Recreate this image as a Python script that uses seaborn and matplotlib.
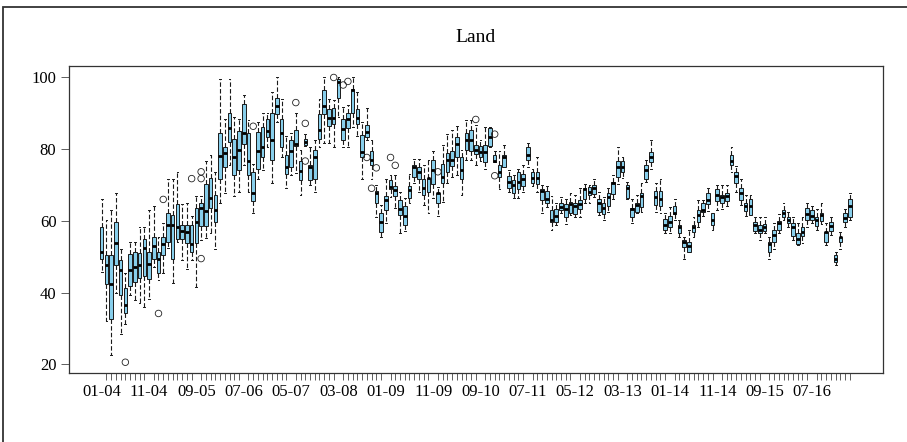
import matplotlib
matplotlib.use("Agg")
import matplotlib.pyplot as plt
import seaborn as sns
import pandas as pd

# monthly box statistics (whisker low, Q1, median, Q3, whisker high)
lows = [45.7, 32.1, 22.6, 39.8, 28.4, 31.4, 39.3, 37.9, 37.2, 36.1, 38.1, 47.2, 43.5, 45.6, 52.5, 42.8, 54.0, 49.1, 46.5, 49.1,
        41.6, 54.6, 55.3, 56.5, 52.3, 65.1, 67.8, 75.6, 66.9, 68.1, 75.6, 68.1, 62.1, 71.6, 74.1, 80.5, 70.6, 87.6, 77.9, 69.1,
        72.8, 73.4, 67.2, 80.9, 70.0, 68.1, 80.5, 81.8, 81.6, 80.7, 89.0, 80.5, 80.5, 86.2, 83.6, 71.8, 82.5, 71.8, 61.2, 55.6,
        59.3, 66.7, 63.5, 56.5, 57.3, 64.9, 70.6, 68.1, 64.4, 62.1, 66.3, 61.3, 65.3, 70.6, 72.3, 72.8, 67.2, 77.0, 77.0, 75.6,
        76.8, 74.6, 80.5, 76.5, 68.8, 75.1, 68.1, 66.3, 66.3, 68.1, 74.9, 69.7, 68.1, 62.1, 63.9, 57.4, 58.8, 62.3, 59.1, 61.6,
        61.2, 61.2, 64.9, 64.9, 66.7, 61.6, 60.2, 62.5, 66.0, 70.3, 72.1, 66.0, 59.3, 62.3, 62.5, 70.9, 74.6, 62.5, 62.1, 56.5,
        56.5, 60.4, 55.6, 49.5, 51.4, 55.6, 58.4, 61.3, 62.8, 57.4, 63.0, 63.2, 64.1, 73.7, 68.1, 64.4, 61.3, 61.6, 56.5, 54.6,
        56.7, 49.5, 52.3, 56.5, 60.4, 58.4, 54.6, 53.3, 53.9, 58.4, 59.3, 57.4, 59.1, 53.3, 56.0, 47.7, 52.3, 58.4, 60.2]
q1s = [49.3, 42.3, 32.7, 47.7, 39.3, 34.2, 41.8, 43.0, 44.0, 44.6, 43.7, 49.3, 45.6, 50.6, 54.2, 49.5, 54.9, 54.9, 53.9, 51.4,
       53.9, 58.6, 58.6, 63.5, 59.8, 71.8, 75.1, 82.1, 72.7, 74.2, 81.4, 72.7, 65.6, 74.6, 77.7, 83.5, 77.1, 89.8, 80.5, 73.2,
       75.1, 80.9, 71.4, 81.1, 71.4, 71.8, 82.8, 89.8, 86.4, 86.9, 94.4, 82.7, 85.8, 90.1, 87.0, 77.7, 83.5, 75.6, 64.9, 56.8,
       63.0, 68.9, 66.9, 61.6, 58.8, 66.5, 72.3, 71.8, 67.2, 68.1, 70.4, 64.9, 70.6, 73.7, 75.3, 77.9, 71.8, 79.9, 79.6, 78.6,
       77.7, 76.5, 80.9, 76.5, 72.3, 75.1, 69.3, 67.9, 68.9, 69.7, 77.0, 70.6, 70.4, 65.8, 65.1, 59.8, 59.8, 63.0, 61.2, 62.1,
       61.9, 63.2, 66.0, 67.2, 67.5, 62.5, 61.9, 64.1, 67.5, 72.3, 73.7, 66.5, 61.2, 62.5, 63.9, 71.8, 76.5, 64.4, 64.1, 57.6,
       58.4, 61.9, 56.5, 52.6, 51.4, 56.8, 59.8, 62.5, 64.6, 58.8, 65.6, 64.9, 65.6, 75.7, 70.6, 65.8, 62.8, 61.6, 57.3, 56.5,
       57.3, 51.4, 54.2, 57.6, 61.2, 59.3, 55.9, 53.7, 55.8, 60.2, 60.4, 58.6, 60.0, 54.2, 57.3, 48.6, 54.2, 59.8, 61.2]
medians = [51.4, 47.7, 42.3, 53.9, 46.3, 36.5, 46.3, 47.2, 47.7, 52.5, 48.1, 53.0, 49.5, 53.7, 58.8, 58.8, 58.4, 57.2, 57.0, 53.7,
           59.8, 63.5, 62.7, 66.5, 63.0, 78.2, 79.0, 85.8, 77.7, 79.9, 84.4, 76.7, 67.9, 79.5, 80.6, 85.0, 82.5, 92.1, 84.4, 75.1,
           79.6, 81.4, 73.9, 82.1, 74.9, 77.7, 85.3, 92.1, 88.6, 88.8, 98.8, 85.6, 88.3, 96.5, 88.6, 79.3, 84.8, 77.0, 67.7, 59.8,
           65.8, 69.5, 68.6, 63.2, 61.3, 68.6, 75.1, 73.7, 69.1, 72.0, 74.2, 67.7, 72.3, 77.0, 77.0, 81.4, 74.3, 82.5, 82.5, 79.9,
           79.3, 79.3, 83.5, 76.8, 73.7, 77.7, 70.9, 70.0, 70.9, 71.6, 78.5, 72.0, 72.1, 68.3, 66.0, 60.4, 61.3, 63.9, 63.2, 64.7,
           64.1, 64.7, 68.8, 68.1, 69.3, 65.1, 63.5, 66.7, 70.6, 75.1, 75.1, 69.3, 63.2, 64.4, 66.9, 74.2, 77.9, 66.7, 66.0, 58.8,
           59.8, 62.1, 58.4, 54.2, 53.0, 58.4, 61.6, 63.0, 65.8, 60.2, 67.2, 66.7, 66.9, 76.8, 72.5, 67.7, 64.2, 64.2, 59.0, 57.4,
           58.4, 53.5, 56.0, 59.3, 62.1, 60.4, 58.4, 55.1, 57.0, 61.9, 61.3, 60.2, 61.6, 57.0, 58.6, 49.5, 55.4, 60.7, 64.2]
q3s = [58.2, 50.6, 50.6, 59.8, 49.1, 41.4, 50.9, 51.4, 51.1, 54.9, 51.4, 55.4, 51.4, 55.4, 62.1, 61.6, 64.6, 58.8, 58.8, 58.8,
       63.5, 64.9, 70.4, 72.1, 67.2, 84.4, 80.5, 90.1, 82.8, 85.1, 92.6, 84.4, 73.7, 84.8, 86.2, 88.3, 90.1, 94.4, 88.3, 78.5,
       82.5, 85.3, 76.7, 82.8, 75.6, 79.9, 89.8, 96.5, 91.1, 91.6, 99.7, 88.3, 90.1, 96.9, 91.1, 83.9, 86.7, 79.6, 68.4, 62.1,
       66.9, 71.4, 69.8, 65.8, 64.2, 69.7, 75.6, 75.1, 71.8, 72.1, 77.0, 67.8, 76.0, 79.0, 79.6, 83.5, 77.7, 84.4, 85.3, 81.3,
       80.9, 81.3, 85.8, 78.5, 75.6, 78.5, 72.6, 71.4, 73.7, 73.2, 80.5, 73.7, 73.7, 68.9, 68.4, 63.0, 63.2, 65.1, 64.6, 65.3,
       64.9, 65.8, 69.1, 69.5, 70.0, 66.0, 64.9, 67.7, 70.9, 76.7, 76.7, 70.0, 63.5, 64.9, 67.8, 75.6, 79.1, 68.4, 68.4, 60.5,
       61.4, 64.1, 59.0, 54.8, 54.2, 59.0, 63.0, 64.9, 67.8, 62.1, 68.8, 67.2, 67.8, 78.5, 73.7, 69.1, 64.9, 66.0, 59.8, 58.8,
       59.1, 54.2, 57.4, 60.0, 63.0, 61.2, 59.3, 56.5, 58.4, 63.5, 63.0, 61.2, 62.1, 57.0, 59.8, 50.5, 55.6, 62.1, 66.0]
highs = [66.0, 60.2, 63.0, 67.8, 52.3, 45.6, 54.2, 54.2, 58.4, 58.4, 63.0, 64.2, 55.4, 59.3, 71.8, 71.8, 73.7, 64.6, 64.9, 61.4,
         66.9, 66.9, 76.7, 78.3, 73.7, 99.7, 88.3, 99.7, 89.0, 88.3, 95.1, 88.1, 76.0, 87.6, 90.0, 90.0, 96.0, 100.0, 94.1, 83.6,
         84.4, 90.1, 79.7, 84.2, 80.7, 82.5, 94.1, 100.0, 94.1, 93.7, 100.0, 91.8, 92.3, 100.0, 96.0, 87.6, 91.4, 82.5, 70.0, 64.4,
         71.8, 72.8, 72.8, 68.1, 66.3, 73.2, 77.4, 77.4, 75.6, 77.0, 79.6, 69.5, 81.1, 84.2, 85.3, 86.4, 79.7, 88.1, 88.1, 86.7,
         82.5, 86.2, 86.2, 79.6, 79.6, 81.1, 74.2, 72.8, 74.6, 75.6, 81.6, 74.6, 77.9, 70.0, 69.7, 66.9, 64.9, 66.7, 66.0, 67.8,
         67.2, 69.1, 70.4, 70.0, 71.8, 68.1, 66.7, 69.1, 72.8, 80.5, 77.7, 70.9, 66.0, 67.2, 70.6, 77.1, 82.5, 70.6, 71.8, 62.1,
         63.9, 66.0, 60.2, 55.6, 57.4, 61.2, 65.8, 65.8, 69.1, 62.1, 70.0, 70.0, 70.0, 80.5, 75.3, 71.8, 67.2, 67.2, 61.2, 61.2,
         61.2, 55.4, 59.3, 61.9, 64.9, 62.5, 61.2, 59.3, 61.2, 64.9, 64.1, 63.2, 64.9, 59.3, 61.2, 51.4, 57.0, 63.2, 67.8]

outlier_box = [6, 13, 14, 20, 22, 22, 22, 33, 42, 44, 44, 50, 52, 53, 57, 58, 59, 62, 63, 72, 80, 84, 84]
outlier_val = [20.6, 34.2, 66.0, 71.8, 73.7, 71.8, 49.5, 86.4, 93.0, 87.2, 76.7, 100.0, 97.9, 98.9, 77.7, 69.1, 74.8,
               77.7, 75.5, 73.7, 88.3, 84.2, 72.6]

tick_labels = ["01-04", "11-04", "09-05", "07-06", "05-07", "03-08", "01-09", "11-09",
               "09-10", "07-11", "05-12", "03-13", "01-14", "11-14", "09-15", "07-16"]

n_box = len(medians)
rows = []
for i in range(n_box):
    for v in (lows[i], q1s[i], medians[i], q3s[i], highs[i]):
        rows.append({"box": i + 1, "value": v})
df = pd.DataFrame(rows)

plt.rcParams["font.family"] = ["Liberation Serif", "DejaVu Serif"]

fig = plt.figure(figsize=(9.07, 4.42), dpi=100)
ax = fig.add_axes([69 / 907, 1 - 373 / 442, (883 - 69) / 907, (373 - 66) / 442])

sns.boxplot(data=df, x="box", y="value", native_scale=True, whis=(0, 100), width=0.75,
            color="skyblue", saturation=1, linecolor="#1a1a1a", linewidth=0.7,
            showfliers=False,
            whiskerprops=dict(linestyle=(0, (4, 2)), linewidth=0.8),
            medianprops=dict(linewidth=2, color="black"), ax=ax)

sns.scatterplot(x=outlier_box, y=outlier_val, marker="o", s=22, facecolor="none",
                edgecolor="#222222", linewidth=0.6, ax=ax, zorder=5)

ax.set_xlim(-5.9, n_box + 7)
ax.set_ylim(17.6, 103.2)
ax.set_xlabel("")
ax.set_ylabel("")
fig.text(476 / 907, 1 - 37 / 442, "Land", ha="center", va="center", fontsize=14)

ax.set_yticks([20, 40, 60, 80, 100])
ax.set_xticks([1 + 10 * k for k in range(len(tick_labels))], tick_labels)
ax.set_xticks(range(1, n_box + 1), minor=True)
ax.tick_params(axis="x", which="major", length=0, pad=8, labelsize=12)
ax.tick_params(axis="x", which="minor", length=5, width=0.6, color="#444444")
ax.tick_params(axis="y", length=6, width=0.6, color="#444444", labelsize=12, pad=3)
for sp in ax.spines.values():
    sp.set_color("#333333")
    sp.set_linewidth(0.9)

# frame around the whole figure
fig.add_artist(plt.Rectangle((3 / 907, -0.1), 1.2, 1.1 - 7 / 442, transform=fig.transFigure,
                             fill=False, ec="#333333", lw=1.3))

fig.savefig("out.png", dpi=100)
